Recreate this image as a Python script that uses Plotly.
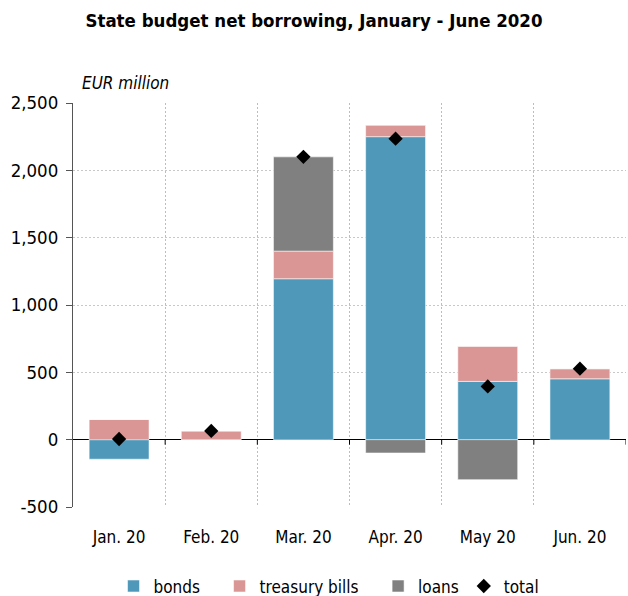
import plotly.graph_objects as go

# Monthly net borrowing by instrument, EUR million
months = ["Jan. 20", "Feb. 20", "Mar. 20", "Apr. 20", "May 20", "Jun. 20"]
bonds = [-145, 0, 1195, 2250, 433, 452]
treasury_bills = [150, 65, 205, 84, 259, 75]
loans = [0, 0, 700, -99, -297, 0]
total = [5, 65, 2100, 2235, 395, 527]

y_ticks = [-500, 0, 500, 1000, 1500, 2000, 2500]
y_tick_text = ["-500", "0", "500", "1,000", "1,500", "2,000", "2,500"]

FONT = "DejaVu Sans Condensed, Liberation Sans Narrow, sans-serif"
EDGE = dict(color="rgba(255,255,255,0.55)", width=1)
PAD = "\u00a0" * 3  # extra room between legend entries

fig = go.Figure()
fig.add_trace(go.Bar(x=months, y=bonds, name="bonds" + PAD,
                     marker=dict(color="#4F98B9", line=EDGE)))
fig.add_trace(go.Bar(x=months, y=treasury_bills, name="treasury bills" + PAD,
                     marker=dict(color="#D99694", line=EDGE)))
fig.add_trace(go.Bar(x=months, y=loans, name="loans",
                     marker=dict(color="#808080", line=EDGE)))
fig.add_trace(go.Scatter(x=months, y=total, name="total", mode="markers",
                         marker=dict(symbol="diamond", size=11, color="black")))

# small tick marks on the zero line at category boundaries
for i in range(len(months)):
    fig.add_shape(type="line", xref="x", yref="y", ysizemode="pixel",
                  yanchor=0, x0=i + 0.5, x1=i + 0.5, y0=0, y1=-5,
                  line=dict(color="black", width=1))

fig.update_layout(
    width=628, height=596,
    barmode="relative", bargap=0.35,
    plot_bgcolor="white", paper_bgcolor="white",
    font=dict(family=FONT, size=17, color="black"),
    margin=dict(l=73, r=2, t=103, b=89, autoexpand=False),
    title=dict(text="<b>State budget net borrowing, January - June 2020</b>",
               x=0.5, xanchor="center", y=0.965, yanchor="middle",
               font=dict(size=18.5, family=FONT)),
    showlegend=True,
    legend=dict(orientation="h", x=0.463, xanchor="center",
                yref="container", y=0.016, yanchor="middle",
                font=dict(size=17), itemwidth=30, traceorder="normal"),
    annotations=[dict(text="<i>EUR million</i>", xref="paper", yref="paper",
                      x=0.012, y=1.02, xanchor="left", yanchor="bottom",
                      showarrow=False, font=dict(size=17, family=FONT))],
)

fig.update_xaxes(type="category", tickson="boundaries", showgrid=True,
                 gridcolor="#BDBDBD", griddash="2px,2px", gridwidth=1,
                 ticks="", showline=False, tickfont=dict(size=17),
                 ticklabelstandoff=18, automargin=False, range=[-0.5, 5.5])
fig.update_yaxes(range=[-500, 2500], tickvals=y_ticks, ticktext=y_tick_text,
                 showgrid=True, gridcolor="#C8C8C8", griddash="2px,2px",
                 gridwidth=1, zeroline=True, zerolinecolor="black",
                 zerolinewidth=1, showline=True, linecolor="#555555",
                 linewidth=1, ticks="outside", ticklen=6, tickcolor="#555555",
                 ticklabelstandoff=4, automargin=False, tickfont=dict(size=18.5))

fig.write_html("out.html")
